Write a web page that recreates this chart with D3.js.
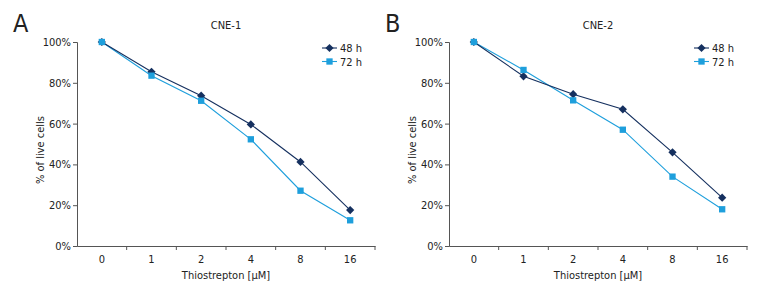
<!DOCTYPE html>
<html>
<head>
<meta charset="utf-8">
<script src="https://cdn.jsdelivr.net/npm/d3@7"></script>
<style>
  body { margin: 0; background: #fff; }
  svg text { font-family: "Liberation Sans Narrow", "DejaVu Sans Condensed", sans-serif; fill: #222; }
</style>
</head>
<body>
<div id="chart"></div>
<script>
// doses on the x axis
const doses = ["0", "1", "2", "4", "8", "16"];
const yTicks = [0, 20, 40, 60, 80, 100];
const seriesNames = ["48 h", "72 h"];

// % of live cells
const cne1_48 = [100, 85.4, 73.7, 59.6, 41.2, 17.6];
const cne1_72 = [100, 83.5, 71.2, 52.3, 27.1, 12.6];
const cne2_48 = [100, 83.2, 74.4, 67.0, 45.9, 23.7];
const cne2_72 = [100, 86.3, 71.4, 57.0, 34.0, 18.0];

const colors = {"48 h": "#15305f", "72 h": "#1e9fdc"};

const svg = d3.select("#chart").append("svg")
    .attr("width", 780)
    .attr("height", 300);

function drawPanel(left, letter, title, d48, d72) {
    let margin = {left: left, top: 42};
    let width = 298, height = 204;

    let g = svg.append("g")
        .attr("transform", "translate(" + margin.left + "," + margin.top + ")");

    let x = d3.scaleBand().domain(doses).range([0, width]);
    let xEdge = d3.scaleLinear().domain([0, doses.length]).range([0, width]);
    let y = d3.scaleLinear().domain([0, 100]).range([height, 0]);

    // y axis
    let yAxis = g.append("g")
        .call(d3.axisLeft(y).tickValues(yTicks).tickSize(4).tickPadding(2).tickFormat(d => d + "%"));
    yAxis.select(".domain").attr("stroke", "#555");
    yAxis.selectAll(".tick line").attr("stroke", "#555");
    yAxis.selectAll("text").style("font-size", "11px").attr("fill", "#222");

    // x axis: labels at band centres, ticks at band edges
    let xAxis = g.append("g")
        .attr("transform", `translate(0, ${height})`)
        .call(d3.axisBottom(x).tickSize(0).tickPadding(9));
    xAxis.select(".domain").attr("stroke", "#555");
    xAxis.selectAll("text").style("font-size", "11px").attr("fill", "#222");

    g.append("g").selectAll("line")
        .data(d3.range(1, doses.length + 1))
        .join("line")
        .attr("x1", d => xEdge(d)).attr("x2", d => xEdge(d))
        .attr("y1", height).attr("y2", height + 4)
        .attr("stroke", "#555");

    // lines + markers
    let line = d3.line()
        .x((d, i) => x(doses[i]) + x.bandwidth() / 2)
        .y(d => y(d));

    [["72 h", d72], ["48 h", d48]].forEach(([name, vals]) => {
        g.append("path")
            .datum(vals)
            .attr("d", line)
            .attr("fill", "none")
            .attr("stroke", colors[name])
            .attr("stroke-width", 1.1);
    });

    let sq = d3.symbol().type(d3.symbolSquare).size(40);
    let dia = d3.symbol().type(d3.symbolSquare).size(34); // rotated 45° below

    g.selectAll("path.s48")
        .data(d48)
        .join("path")
        .attr("class", "s48")
        .attr("d", dia)
        .attr("transform", (d, i) => `translate(${x(doses[i]) + x.bandwidth() / 2},${y(d)}) rotate(45)`)
        .attr("fill", colors["48 h"]);

    g.selectAll("path.s72")
        .data(d72)
        .join("path")
        .attr("class", "s72")
        .attr("d", sq)
        .attr("transform", (d, i) => `translate(${x(doses[i]) + x.bandwidth() / 2},${y(d)})`)
        .attr("fill", colors["72 h"]);

    // titles and labels
    g.append("text")
        .attr("x", x(doses[2]) + x.bandwidth())
        .attr("y", -13)
        .attr("text-anchor", "middle")
        .style("font-size", "11px")
        .text(title);

    g.append("text")
        .attr("x", width / 2)
        .attr("y", height + 33)
        .attr("text-anchor", "middle")
        .style("font-size", "11px")
        .text("Thiostrepton [\u00b5M]");

    g.append("text")
        .attr("transform", `translate(-33, ${height / 2 + 6}) rotate(-90)`)
        .attr("text-anchor", "middle")
        .style("font-size", "11px")
        .text("% of live cells");

    svg.append("text")
        .attr("x", left - 64)
        .attr("y", 32)
        .style("font-size", "25px")
        .text(letter);

    // legend
    let legend = g.append("g")
        .attr("transform", `translate(${width - 53}, 6)`);
    seriesNames.forEach((name, i) => {
        let row = legend.append("g").attr("transform", `translate(0, ${i * 13.5})`);
        row.append("line")
            .attr("x1", 0).attr("x2", 15)
            .attr("stroke", colors[name]).attr("stroke-width", 1.1);
        row.append("path")
            .attr("d", name === "48 h" ? dia : sq)
            .attr("transform", name === "48 h" ? "translate(7.5,0) rotate(45)" : "translate(7.5,0)")
            .attr("fill", colors[name]);
        row.append("text")
            .attr("x", 18)
            .attr("y", 4)
            .style("font-size", "11px")
            .text(name);
    });
}

drawPanel(77, "A", "CNE-1", cne1_48, cne1_72);
drawPanel(449, "B", "CNE-2", cne2_48, cne2_72);
</script>
</body>
</html>
